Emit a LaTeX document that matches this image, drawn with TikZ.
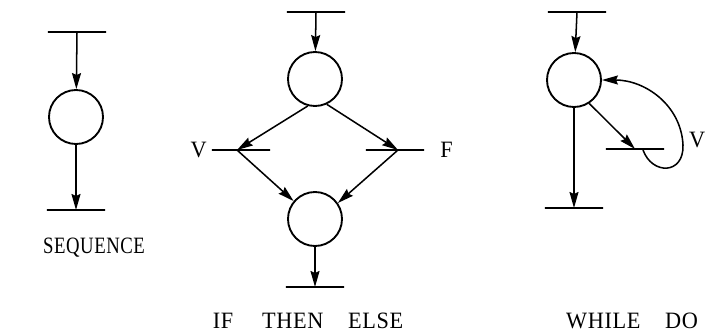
\documentclass[tikz,border=0pt]{standalone}
\usepackage{fontspec}
\setmainfont{Liberation Serif}
\newfontfamily\capfont[LetterSpace=3]{Liberation Serif}
\usetikzlibrary{arrows.meta}

\begin{document}
\begin{tikzpicture}[
  x=0.03cm, y=-0.03cm,
  state/.style={circle, draw, line width=1.6pt, minimum size=1.62cm, inner sep=0pt},
  bar/.style={rectangle, draw, line width=2pt, minimum width=1.75cm, minimum height=0pt, inner sep=0pt},
  flow/.style={line width=1.3pt, -{Stealth[length=4.8mm,width=2.7mm,inset=0.6mm]}},
  caption/.style={font=\capfont\fontsize{20}{24}\selectfont, xscale=#1, transform shape},
  caption/.default=0.95
]
\useasboundingbox (0,0) rectangle (709,333);

% sequence
\node[bar] (s-top) at (77,32) {};
\node[state] (s-st) at (76,117) {};
\node[bar] (s-bot) at (76,210) {};
\draw[flow] (s-top.center) -- (s-st);
\draw[flow] (s-st) -- (s-bot.center);
\node[caption=0.8] (s-cap) at (94,248) {SEQUENCE};

% if then else
\node[bar] (i-top) at (316,12) {};
\node[state] (i-test) at (315,79) {};
\node[bar] (i-v) at (241,150) {};
\node[bar] (i-f) at (395,150) {};
\node[state] (i-join) at (315,219) {};
\node[bar] (i-bot) at (315,287) {};
\draw[flow] (i-top.center) -- (i-test);
\draw[flow] (i-test.255) -- ([xshift=-0.12cm]i-v.center);
\draw[flow] (i-test.295) -- ([xshift=0.09cm]i-f.center);
\draw[flow] ([xshift=-0.12cm]i-v.center) -- (i-join.140);
\draw[flow] ([xshift=0.09cm]i-f.center) -- (i-join.35);
\draw[flow] (i-join) -- (i-bot.center);
\node[caption, anchor=east] (i-vlab) at (i-v.west) {V\hspace{0.4em}};
\node[caption, anchor=west] (i-flab) at (i-f.east) {\hspace{0.5em}F};
\node[caption] (i-cap) at (308,321) {IF\hspace{1.3em}THEN\hspace{1.1em}ELSE};

% while do
\node[bar] (w-top) at (577,12) {};
\node[state] (w-test) at (574,80) {};
\node[bar] (w-body) at (635,149) {};
\node[bar] (w-bot) at (574,208) {};
\coordinate (w-back) at (643,150);
\draw[flow] (w-top.center) -- (w-test);
\draw[flow] (w-test.-57) -- (w-body.center);
\draw[flow] (w-test) -- (w-bot.center);
\draw[flow] (w-back) .. controls (652,175) and (684,175) .. (683,145)
  .. controls (681,105) and (645,80) .. (w-test.east);
\node[caption, anchor=east] (w-vlab) at (709,140) {V};
\node[caption] (w-cap) at (632,321) {WHILE\hspace{1.1em}DO};
\end{tikzpicture}
\end{document}
